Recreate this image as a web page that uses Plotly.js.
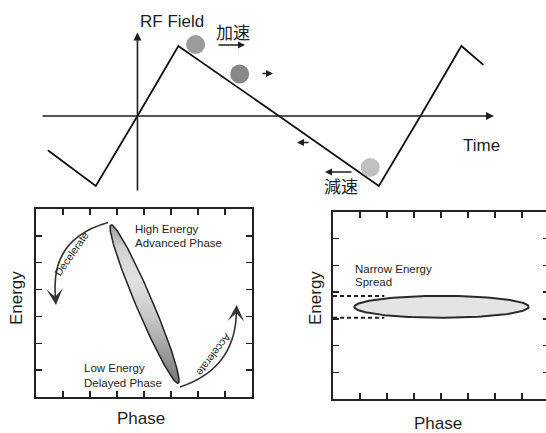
<!DOCTYPE html>
<html><head><meta charset="utf-8">
<script src="https://cdn.plot.ly/plotly-3.0.1.min.js"></script>
<style>html,body{margin:0;padding:0;overflow:hidden;background:#fff}#chart{width:550px;height:433px}</style>
</head><body><div id="chart"></div>
<script>
// ---- RF field (sawtooth) versus time (time in degrees of RF phase) ----
const rfTime  = [-114, -53, 0, 52, 180, 307, 360, 412, 440];
const rfField = [-0.49, -1, 0, 1, 0, -1, 0, 1, 0.73];
// particles riding on the wave
const particleTime  = [74, 130, 296];
const particleField = [1.02, 0.6, -0.735];
const particleColor = ['#9c9c9c', '#888888', '#c0c0c0'];
// ---- bunch in longitudinal phase space: [before (chirped), after (compressed energy)] ----
const bunchPhase      = [4.02, 4.02];
const bunchEnergy     = [3.46, 3.45];
const bunchHalfLength = [3.2, 3.23];
const bunchHalfWidth  = [0.31, 0.41];
const bunchTilt       = [112.9, 0];   // degrees
const spreadPhase     = [0, 1.9];     // extent of the dashed energy-spread markers

const W = 550, H = 433;
const X = p => p / W, Y = p => 1 - p / H;
const ink = '#1e1e1e';
const sans = 'Liberation Sans, Arial, sans-serif';
const cjk = 'Noto Sans CJK JP, sans-serif';

function ellipse(i) {
  const xs = [], ys = [];
  const a = bunchHalfLength[i], b = bunchHalfWidth[i], th = bunchTilt[i] * Math.PI / 180;
  for (let k = 0; k <= 160; k++) {
    const t = 2 * Math.PI * k / 160, u = a * Math.cos(t), v = b * Math.sin(t);
    xs.push(bunchPhase[i] + u * Math.cos(th) - v * Math.sin(th));
    ys.push(bunchEnergy[i] + u * Math.sin(th) + v * Math.cos(th));
  }
  return {xs, ys};
}
const e0 = ellipse(0), e1 = ellipse(1);
const hi = bunchEnergy[1] + bunchHalfWidth[1], lo = bunchEnergy[1] - bunchHalfWidth[1];

const traces = [
  {x: rfTime, y: rfField, xaxis: 'x', yaxis: 'y', mode: 'lines', line: {color: '#111', width: 1.8}, hoverinfo: 'skip'},
  {x: particleTime, y: particleField, xaxis: 'x', yaxis: 'y', mode: 'markers',
   marker: {size: 19, color: particleColor, line: {width: 0}}, hoverinfo: 'skip'},
  {x: e0.xs, y: e0.ys, xaxis: 'x2', yaxis: 'y2', mode: 'lines', fill: 'toself',
   fillgradient: {type: 'vertical', colorscale: [[0, '#767676'], [0.18, '#999999'], [0.42, '#c8c8c8'], [0.65, '#e2e2e2'], [0.86, '#d0d0d0'], [1, '#9a9a9a']]},
   line: {color: '#222', width: 1.5}, hoverinfo: 'skip'},
  {x: e1.xs, y: e1.ys, xaxis: 'x3', yaxis: 'y3', mode: 'lines', fill: 'toself', fillcolor: '#e4e4e4',
   line: {color: '#2a2a2a', width: 2}, hoverinfo: 'skip'},
  {x: [spreadPhase[0], spreadPhase[1], null, spreadPhase[0], spreadPhase[1]], y: [hi, hi, null, lo, lo],
   xaxis: 'x3', yaxis: 'y3', mode: 'lines', line: {color: '#222', width: 2, dash: '4px,3px'}, hoverinfo: 'skip'}
];

const boxX = {range: [0, 8], dtick: 1, tick0: 0, ticks: 'inside', ticklen: 6, tickwidth: 1.5, tickcolor: '#222',
  showticklabels: false, showline: true, linewidth: 2, linecolor: '#222', mirror: 'ticks', showgrid: false, zeroline: false};
const boxY = Object.assign({}, boxX, {range: [0, 7]});

function txt(text, px, py, size, opts) {
  return Object.assign({text, x: X(px), y: Y(py), xref: 'paper', yref: 'paper', showarrow: false,
    xanchor: 'center', yanchor: 'middle', font: {family: sans, size, color: ink}}, opts || {});
}
function arr(px, py, dx, dy, opts) {
  return Object.assign({text: '', x: X(px), y: Y(py), xref: 'paper', yref: 'paper', ax: dx, ay: dy,
    showarrow: true, arrowhead: 2, arrowsize: 1, arrowwidth: 1.4, arrowcolor: ink, standoff: 0}, opts || {});
}

const annotations = [
  // axes of the RF plot
  {text: '', xref: 'x', yref: 'y', axref: 'x', ayref: 'y', x: 453.5, y: 0, ax: -122.7, ay: 0,
   showarrow: true, arrowhead: 2, arrowsize: 1, arrowwidth: 1.6, arrowcolor: ink, standoff: 0},
  {text: '', xref: 'x', yref: 'y', axref: 'x', ayref: 'y', x: 0, y: 1.1929, ax: 0, ay: -1.0857,
   showarrow: true, arrowhead: 2, arrowsize: 1, arrowwidth: 1.6, arrowcolor: ink, standoff: 0},
  txt('RF Field', 171.5, 21.5, 17),
  txt('Time', 481, 145, 17),
  txt('加速', 232.5, 31.5, 17, {font: {family: cjk, size: 17, color: ink}}),
  txt('減速', 340.5, 185, 17, {font: {family: cjk, size: 17, color: ink}}),
  arr(245, 45, -28, 0),
  arr(273, 73.5, -12, 0),
  arr(297, 142.5, 13, 0),
  arr(325, 172, 28, 0),
  // left phase-space panel
  txt('High Energy', 133.3, 228.5, 11.5, {xanchor: 'left'}),
  txt('Advanced Phase', 133.3, 242.7, 11.5, {xanchor: 'left'}),
  txt('Low Energy', 81.7, 368.3, 11.5, {xanchor: 'left'}),
  txt('Delayed Phase', 81.7, 382.7, 11.5, {xanchor: 'left'}),
  txt('Decelerate', 71, 254, 10.5, {textangle: -55}),
  txt('Accelerate', 214, 355, 10.5, {textangle: 127}),
  arr(56, 305, -1, -12, {arrowhead: 3, arrowsize: 1.8, arrowwidth: 1.5, arrowcolor: '#333'}),
  arr(236.7, 305, -0.5, 12, {arrowhead: 3, arrowsize: 1.8, arrowwidth: 1.5, arrowcolor: '#333'}),
  txt('Energy', 15.8, 298.3, 17, {textangle: -90}),
  txt('Phase', 141, 418, 17),
  // right phase-space panel
  txt('Narrow Energy', 352.7, 269, 11.5, {xanchor: 'left'}),
  txt('Spread', 352.7, 281.7, 11.5, {xanchor: 'left'}),
  txt('Energy', 315.7, 298.3, 17, {textangle: -90}),
  txt('Phase', 437.7, 423, 17)
];

const shapes = [
  {type: 'path', xref: 'paper', yref: 'paper', line: {color: '#333', width: 1.6},
   path: `M ${X(108)},${Y(222.5)} Q ${X(50)},${Y(239)} ${X(55.5)},${Y(296)}`},
  {type: 'path', xref: 'paper', yref: 'paper', line: {color: '#333', width: 1.6},
   path: `M ${X(180)},${Y(387)} Q ${X(234)},${Y(369)} ${X(236.3)},${Y(315)}`}
];

const layout = {
  width: W, height: H, margin: {l: 0, r: 0, t: 0, b: 0}, showlegend: false,
  paper_bgcolor: '#fff', plot_bgcolor: 'rgba(0,0,0,0)',
  xaxis: {domain: [X(41), X(494)], range: [-122.7, 453.5], visible: false},
  yaxis: {domain: [Y(192), Y(32.5)], range: [-1.0857, 1.1929], visible: false},
  xaxis2: Object.assign({domain: [X(36), X(252)], anchor: 'y2'}, boxX),
  yaxis2: Object.assign({domain: [Y(397), Y(209)], anchor: 'x2'}, boxY),
  xaxis3: Object.assign({domain: [X(333), X(549)], anchor: 'y3'}, boxX),
  yaxis3: Object.assign({domain: [Y(399), Y(212)], anchor: 'x3'}, boxY),
  annotations, shapes
};

Plotly.newPlot('chart', traces, layout, {staticPlot: true, displayModeBar: false});
</script></body></html>
